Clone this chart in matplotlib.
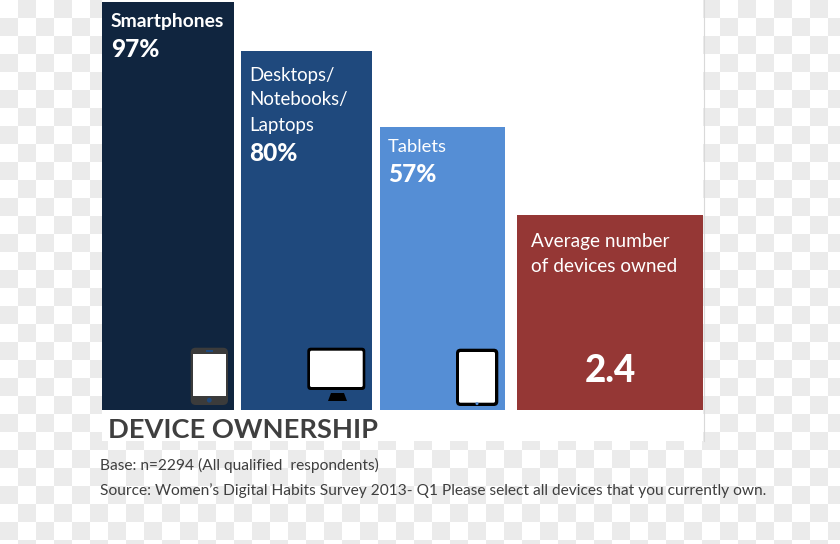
import numpy as np
import matplotlib
matplotlib.use('Agg')
import matplotlib.pyplot as plt
from matplotlib.patches import FancyBboxPatch, Polygon, Circle, Rectangle

plt.rcParams['font.family'] = ['Lato', 'DejaVu Sans']

categories = ['Smartphones', 'Desktops/\nNotebooks/\nLaptops', 'Tablets', 'Average number\nof devices owned']
values = ['97%', '80%', '57%', '2.4']
bar_heights = [408, 359.5, 283, 195.5]
bar_lefts = [102, 240.5, 379.5, 517]
bar_widths = [132, 131.5, 125, 186]
bar_colors = ['#10253f', '#1f497d', '#558ed5', '#953735']
title = 'DEVICE OWNERSHIP'
notes = ['Base: n=2294 (All qualified  respondents)',
         'Source: Women\u2019s Digital Habits Survey 2013- Q1 Please select all devices that you currently own.']

W, H = 840, 544
baseline = 410
fig = plt.figure(figsize=(W / 100, H / 100), dpi=100)
ax = fig.add_axes([0, 0, 1, 1])
ax.set_xlim(0, W)
ax.set_ylim(H, 0)
ax.axis('off')

# transparency checkerboard behind the pasted slide
cell = 18
nx, ny = W // cell + 1, H // cell + 1
checker = np.fromfunction(lambda j, i: (i + j) % 2, (ny, nx))
ax.pcolormesh(np.arange(nx + 1) * cell, np.arange(ny + 1) * cell, checker,
              cmap=matplotlib.colors.ListedColormap(['#ffffff', '#ebebeb']), zorder=0)

# white slide panel
ax.add_patch(Rectangle((102, 0), 601, 441, fc='white', ec='none', zorder=1))
ax.plot([703.5, 703.5], [0, 441], color='#d9d9d9', lw=0.8, zorder=1)

ax.bar(bar_lefts, [-h for h in bar_heights], width=bar_widths, bottom=baseline, align='edge',
       color=bar_colors, edgecolor='none', zorder=2)


def label(x, y, s, size, weight='normal', color='white', **kw):
    ax.text(x, y, s, fontsize=size, color=color, fontweight=weight,
            va='center', ha=kw.pop('ha', 'left'), zorder=5, **kw)


label(111, 21.5, categories[0], 13.85, weight='bold')
label(111, 49.5, values[0], 17.6, weight='black')
label(249.3, 75.5, 'Desktops/', 13.4)
label(249.3, 100, 'Notebooks/', 13.4)
label(249.3, 125, 'Laptops', 13.4)
label(249.3, 153.5, values[1], 17.6, weight='black')
label(387.8, 147, categories[2], 13.2)
label(387.8, 175, values[2], 17.6, weight='black')
label(531, 241.5, 'Average number', 13.7)
label(531, 266, 'of devices owned', 13.7)
label(610.5, 371.5, values[3], 26.5, weight='black', ha='center')


def rbox(x0, y0, x1, y1, fc, r=2.0):
    ax.add_patch(FancyBboxPatch((x0 + r, y0 + r), x1 - x0 - 2 * r, y1 - y0 - 2 * r,
                                boxstyle='round,pad=%g,rounding_size=%g' % (r, r),
                                fc=fc, ec='none', zorder=3))


# phone icon
rbox(190.7, 347.7, 228, 405, '#3b3b3b', r=5)
ax.add_patch(Rectangle((192.7, 354), 33.3, 41.7, fc='white', ec='none', zorder=4))
ax.add_patch(Circle((209.3, 400.2), 2.4, fc='#1f497d', ec='none', zorder=4))
ax.add_patch(Rectangle((206, 350), 6.5, 1.6, fc='#1f497d', ec='none', zorder=4))

# monitor icon
rbox(307.3, 347.7, 365.3, 390, 'black', r=3.5)
rbox(310, 350.7, 362.7, 387, 'white', r=1.5)
ax.add_patch(Polygon([(331, 393), (344, 393), (347, 401), (328, 401)], fc='black', ec='none', zorder=3))

# tablet icon
rbox(456, 348.7, 498.3, 406, 'black', r=4.5)
rbox(459, 352, 495, 402.7, 'white', r=1.5)
ax.add_patch(Circle((477, 403.6), 1.5, fc='#558ed5', ec='none', zorder=4))

label(107.5, 429.5, title, 19.65, weight='bold', color='#3f3f3f')
label(100.5, 465, notes[0], 11.17, color='#3f3f3f')
label(100.5, 491, notes[1], 11.17, color='#3f3f3f')

fig.savefig('out.png', dpi=100)
